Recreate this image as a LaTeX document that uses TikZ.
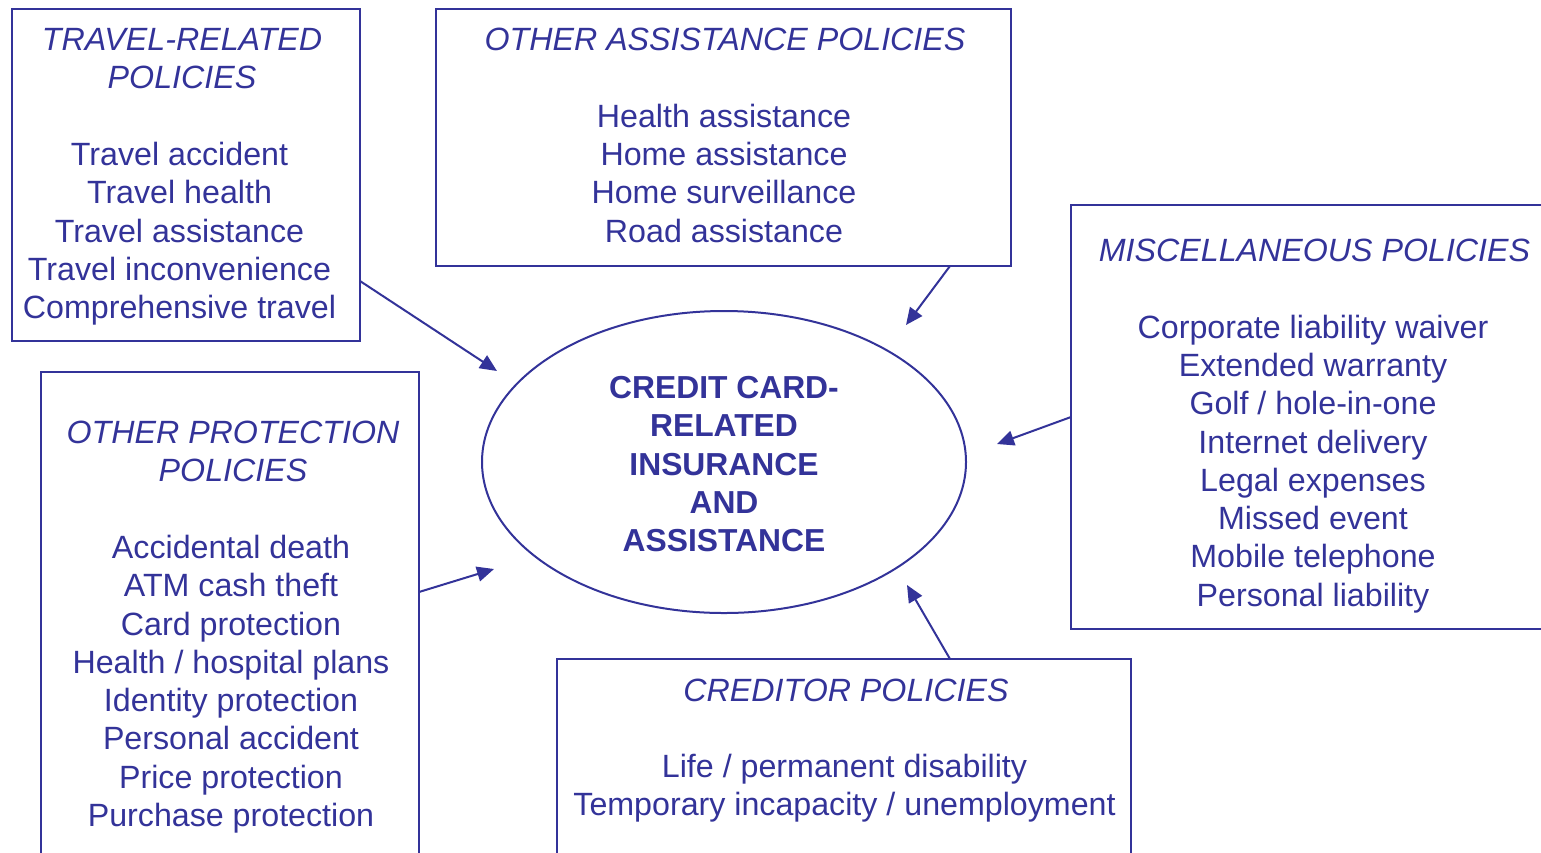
\documentclass[tikz,border=0pt]{standalone}
\usepackage{fontspec}
\setmainfont{Liberation Sans}
\usetikzlibrary{arrows.meta,shapes.geometric}
\definecolor{ink}{RGB}{51,51,153}

% one centred line per entry, baselines 38.3 units apart
\newcommand\linestack[4]{%
  \foreach \txt [count=\i] in {#4}
    \node[item] (#1-\i) at (#2, {#3+38.3*(\i-1)}) {\txt};}

\begin{document}
\begin{tikzpicture}[x=0.5pt, y=-0.5pt,
  every node/.style={text=ink, font=\fontsize{16.1pt}{19pt}\selectfont},
  item/.style={anchor=base, inner sep=0pt},
  head/.style={item, font=\fontsize{16.1pt}{19pt}\selectfont\itshape},
  core/.style={item, font=\fontsize{15.9pt}{19pt}\selectfont\bfseries},
  box/.style={draw=ink, line width=1pt, inner sep=0pt, outer sep=0pt},
  conn/.style={draw=ink, line width=1pt, -{Triangle[length=8.5pt,width=7.5pt]}}]

\useasboundingbox (0,0) rectangle (1541,852);
\clip (0,0) rectangle (1541,852);

% policy boxes
\node[box, minimum width=174pt, minimum height=166pt] (travel) at (186,175) {};
\node[box, minimum width=287.5pt, minimum height=128.5pt] (assist) at (723.5,137.5) {};
\node[box, minimum width=245pt, minimum height=212pt] (misc) at (1316,417) {};
\node[box, minimum width=189pt, minimum height=250pt] (prot) at (230,622) {};
\node[box, minimum width=287pt, minimum height=110pt] (cred) at (844,769) {};

% central ellipse
\node[draw=ink, line width=1pt, ellipse, inner sep=0pt, outer sep=0pt,
      minimum width=242pt, minimum height=151pt] (hub) at (724,462) {};

% travel-related policies
\node[head] (tr-h1) at (182,50.5) {TRAVEL-RELATED};
\node[head] (tr-h2) at (182,88.8) {POLICIES};
\linestack{tr}{179.5}{165.4}{Travel accident,Travel health,Travel assistance,Travel inconvenience,Comprehensive travel}

% other assistance policies
\node[head] (as-h1) at (725,50.5) {OTHER ASSISTANCE POLICIES};
\linestack{as}{724}{127.1}{Health assistance,Home assistance,Home surveillance,Road assistance}

% miscellaneous policies
\node[head] (mi-h1) at (1314.5,261.5) {MISCELLANEOUS POLICIES};
\linestack{mi}{1313}{338.1}{Corporate liability waiver,Extended warranty,Golf / hole-in-one,Internet delivery,Legal expenses,Missed event,Mobile telephone,Personal liability}

% other protection policies
\node[head] (pr-h1) at (233,443.5) {OTHER PROTECTION};
\node[head] (pr-h2) at (233,481.8) {POLICIES};
\linestack{pr}{231}{558.4}{Accidental death,ATM cash theft,Card protection,Health / hospital plans,Identity protection,Personal accident,Price protection,Purchase protection}

% creditor policies
\node[head] (cr-h1) at (846,701) {CREDITOR POLICIES};
\linestack{cr}{844.5}{777.6}{Life / permanent disability,Temporary incapacity / unemployment}

% centre label
\foreach \txt [count=\i] in {CREDIT CARD-,RELATED,INSURANCE,AND,ASSISTANCE}
  \node[core] (hub-\i) at (724, {398.5+38.3*(\i-1)}) {\txt};

% arrow tips near the ellipse
\coordinate (tipA) at (497,371);
\coordinate (tipB) at (906,325);
\coordinate (tipC) at (997,444);
\coordinate (tipD) at (494,569);
\coordinate (tipE) at (907,585);

\draw[conn] (travel.east |- 0,281) -- (tipA);
\draw[conn] (assist.south -| 950,0) -- (tipB);
\draw[conn] (misc.west |- 0,417) -- (tipC);
\draw[conn] (prot.east |- 0,592) -- (tipD);
\draw[conn] (cred.north -| 950,0) -- (tipE);
\end{tikzpicture}
\end{document}
